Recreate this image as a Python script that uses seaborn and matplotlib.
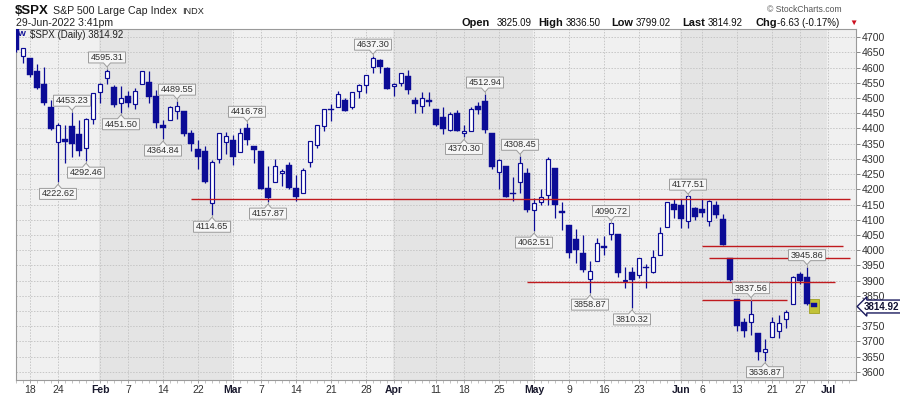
"""$SPX daily candlestick chart in the StockCharts look (Jan - Jun 2022)."""

import matplotlib.pyplot as plt
import matplotlib.patches as patches
import matplotlib.transforms as mtransforms
import numpy as np
import pandas as pd
import seaborn as sns

sns.set_theme(style="white", context="paper")
plt.rcParams["font.family"] = ["Liberation Sans", "DejaVu Sans"]

_DPI = 100
NAVY = "#0b0b96"
GRID = "#c6c6c6"
LEVEL_RED = "#c01a1e"

# ---------------------------------------------------------------------------
# Data (daily OHLC)
# ---------------------------------------------------------------------------

dates = [
    "2022-01-13", "2022-01-14", "2022-01-18", "2022-01-19", "2022-01-20", "2022-01-21",
    "2022-01-24", "2022-01-25", "2022-01-26", "2022-01-27", "2022-01-28", "2022-01-31",
    "2022-02-01", "2022-02-02", "2022-02-03", "2022-02-04", "2022-02-07", "2022-02-08",
    "2022-02-09", "2022-02-10", "2022-02-11", "2022-02-14", "2022-02-15", "2022-02-16",
    "2022-02-17", "2022-02-18", "2022-02-22", "2022-02-23", "2022-02-24", "2022-02-25",
    "2022-02-28",
    "2022-03-01", "2022-03-02", "2022-03-03", "2022-03-04", "2022-03-07", "2022-03-08",
    "2022-03-09", "2022-03-10", "2022-03-11", "2022-03-14", "2022-03-15", "2022-03-16",
    "2022-03-17", "2022-03-18", "2022-03-21", "2022-03-22", "2022-03-23", "2022-03-24",
    "2022-03-25", "2022-03-28", "2022-03-29", "2022-03-30", "2022-03-31",
    "2022-04-01", "2022-04-04", "2022-04-05", "2022-04-06", "2022-04-07", "2022-04-08",
    "2022-04-11", "2022-04-12", "2022-04-13", "2022-04-14", "2022-04-18", "2022-04-19",
    "2022-04-20", "2022-04-21", "2022-04-22", "2022-04-25", "2022-04-26", "2022-04-27",
    "2022-04-28", "2022-04-29",
    "2022-05-02", "2022-05-03", "2022-05-04", "2022-05-05", "2022-05-06", "2022-05-09",
    "2022-05-10", "2022-05-11", "2022-05-12", "2022-05-13", "2022-05-16", "2022-05-17",
    "2022-05-18", "2022-05-19", "2022-05-20", "2022-05-23", "2022-05-24", "2022-05-25",
    "2022-05-26", "2022-05-27", "2022-05-31",
    "2022-06-01", "2022-06-02", "2022-06-03", "2022-06-06", "2022-06-07", "2022-06-08",
    "2022-06-09", "2022-06-10", "2022-06-13", "2022-06-14", "2022-06-15", "2022-06-16",
    "2022-06-17", "2022-06-21", "2022-06-22", "2022-06-23", "2022-06-24", "2022-06-27",
    "2022-06-28", "2022-06-29",
]

opens = [
    4733.56, 4637.99, 4632.24, 4588.03, 4547.35, 4471.38, 4356.32, 4366.64, 4408.43, 4380.58, 4336.19, 4431.79,
    4519.57, 4566.39, 4535.41, 4482.79, 4505.75, 4480.02, 4547.00, 4553.24, 4506.27, 4412.61, 4429.28, 4455.75,
    4456.06, 4384.57, 4332.74, 4324.93, 4155.77, 4298.38, 4354.17,
    4363.14, 4322.56, 4401.31, 4342.12, 4327.01, 4202.66, 4223.10, 4252.55, 4279.50, 4202.75, 4188.82, 4288.14,
    4345.11, 4407.34, 4462.40, 4469.10, 4493.10, 4469.98, 4522.66, 4541.09, 4602.86, 4624.20, 4599.02,
    4540.32, 4547.97, 4572.45, 4494.17, 4474.65, 4494.15, 4462.64, 4437.59, 4394.30, 4449.12, 4385.63, 4390.63,
    4472.26, 4489.17, 4385.83, 4255.34, 4278.14, 4186.52, 4222.58, 4253.75,
    4130.61, 4159.78, 4181.18, 4270.43, 4128.17, 4081.27, 4035.18, 3990.08, 3903.95, 3963.90, 4013.02, 4052.00,
    4051.98, 3899.00, 3927.76, 3919.42, 3942.94, 3929.59, 3984.60, 4077.43, 4151.09,
    4149.78, 4095.41, 4137.57, 4134.72, 4096.47, 4147.12, 4101.65, 3974.39, 3838.15, 3763.52, 3764.05, 3728.18,
    3665.90, 3715.31, 3733.89, 3774.71, 3821.75, 3920.76, 3913.00, 3825.09,
]

highs = [
    4744.13, 4665.13, 4632.24, 4611.55, 4602.11, 4494.52, 4417.35, 4411.01, 4453.23, 4428.74, 4432.72, 4516.89,
    4550.49, 4595.31, 4542.88, 4539.66, 4521.86, 4531.32, 4590.03, 4588.92, 4526.33, 4426.22, 4472.77, 4489.55,
    4456.06, 4394.60, 4362.12, 4341.51, 4294.73, 4385.34, 4388.84,
    4378.45, 4401.48, 4416.78, 4342.12, 4327.01, 4276.94, 4299.40, 4268.28, 4291.01, 4247.57, 4271.05, 4357.86,
    4412.67, 4465.40, 4481.75, 4522.00, 4501.07, 4520.58, 4546.03, 4575.65, 4637.30, 4627.77, 4603.07,
    4548.70, 4583.50, 4593.45, 4503.94, 4521.16, 4520.41, 4464.35, 4471.00, 4453.92, 4460.46, 4410.31, 4471.03,
    4488.29, 4512.94, 4385.83, 4299.02, 4278.14, 4240.71, 4308.45, 4269.68,
    4169.81, 4200.10, 4307.66, 4270.43, 4157.69, 4081.27, 4068.82, 4049.09, 3964.80, 4038.88, 4046.46, 4090.72,
    4051.98, 3945.96, 3943.42, 3975.30, 3955.68, 3999.33, 4075.14, 4158.49, 4168.34,
    4166.54, 4177.51, 4142.67, 4168.78, 4164.86, 4160.14, 4119.10, 3974.39, 3838.15, 3778.18, 3837.56, 3728.18,
    3707.71, 3779.65, 3785.99, 3802.58, 3913.65, 3927.72, 3945.86, 3836.50,
]

lows = [
    4650.29, 4614.75, 4568.70, 4530.20, 4477.95, 4395.34, 4222.62, 4287.11, 4304.80, 4309.50, 4292.46, 4414.02,
    4483.53, 4544.32, 4470.39, 4451.50, 4471.47, 4465.40, 4547.00, 4484.31, 4401.41, 4364.84, 4429.28, 4429.68,
    4373.81, 4327.22, 4267.11, 4221.51, 4114.65, 4286.83, 4315.12,
    4279.54, 4322.56, 4345.56, 4284.98, 4199.85, 4157.87, 4223.10, 4209.80, 4200.49, 4161.72, 4187.90, 4272.36,
    4335.65, 4390.57, 4424.30, 4469.10, 4455.81, 4465.17, 4501.07, 4517.69, 4581.51, 4581.32, 4530.41,
    4507.57, 4539.21, 4514.17, 4450.04, 4450.30, 4474.60, 4408.38, 4381.34, 4392.70, 4390.77, 4370.30, 4390.63,
    4448.76, 4384.47, 4267.62, 4200.82, 4175.04, 4162.90, 4188.63, 4124.28,
    4062.51, 4147.08, 4148.91, 4106.01, 4067.91, 3975.48, 3958.17, 3928.82, 3858.87, 3963.90, 3983.99, 4033.93,
    3911.91, 3876.58, 3810.32, 3908.52, 3875.13, 3925.03, 3984.60, 4077.43, 4104.88,
    4073.85, 4074.37, 4098.67, 4109.18, 4080.19, 4107.20, 4017.17, 3900.16, 3734.30, 3715.31, 3722.30, 3639.77,
    3636.87, 3715.31, 3710.85, 3743.52, 3821.75, 3889.66, 3820.14, 3799.02,
]

closes = [
    4659.03, 4662.85, 4577.11, 4532.76, 4482.73, 4397.94, 4410.13, 4356.45, 4349.93, 4326.51, 4431.85, 4515.55,
    4546.54, 4589.38, 4477.44, 4500.53, 4483.87, 4521.54, 4587.18, 4504.08, 4418.64, 4401.67, 4471.07, 4475.01,
    4380.26, 4348.87, 4304.76, 4225.50, 4288.70, 4384.65, 4373.94,
    4306.26, 4386.54, 4363.49, 4328.87, 4201.09, 4170.70, 4277.88, 4259.52, 4204.31, 4173.11, 4262.45, 4357.86,
    4411.67, 4463.12, 4461.18, 4511.61, 4456.24, 4520.16, 4543.06, 4575.52, 4631.60, 4602.45, 4530.41,
    4545.86, 4582.64, 4525.12, 4481.15, 4500.21, 4488.28, 4412.53, 4397.45, 4446.59, 4392.59, 4391.69, 4462.21,
    4459.45, 4393.66, 4271.78, 4296.12, 4175.20, 4183.96, 4287.50, 4131.93,
    4155.38, 4175.48, 4300.17, 4146.87, 4123.34, 3991.24, 4001.05, 3935.18, 3930.08, 4023.89, 4008.01, 4088.85,
    3923.68, 3900.79, 3901.36, 3973.75, 3941.48, 3978.73, 4057.84, 4158.24, 4132.15,
    4101.23, 4176.82, 4108.54, 4121.43, 4160.68, 4115.77, 4017.82, 3900.86, 3749.63, 3735.48, 3789.99, 3666.77,
    3674.84, 3764.79, 3759.89, 3795.73, 3911.74, 3900.11, 3821.55, 3814.92,
]

# empty trading days to the right of the last bar
future_dates = ["2022-06-30", "2022-07-01", "2022-07-05", "2022-07-06", "2022-07-07"]

tick_dates = [
    "2022-01-18", "2022-01-24", "2022-02-01", "2022-02-07", "2022-02-14", "2022-02-22",
    "2022-03-01", "2022-03-07", "2022-03-14", "2022-03-21", "2022-03-28", "2022-04-01",
    "2022-04-11", "2022-04-18", "2022-04-25", "2022-05-02", "2022-05-09", "2022-05-16",
    "2022-05-23", "2022-06-01", "2022-06-06", "2022-06-13", "2022-06-21", "2022-06-27",
    "2022-07-01",
]
tick_labels = [
    "18", "24", "Feb", "7", "14", "22", "Mar", "7", "14", "21", "28", "Apr",
    "11", "18", "25", "May", "9", "16", "23", "Jun", "6", "13", "21", "27", "Jul",
]

# price scale; the 3800 label sits under the last-price marker
price_ticks = list(range(3600, 4701, 50))
hidden_price_labels = [3800]

# swing highs / lows that carry a price tag
swing_dates = [
    "2022-01-24", "2022-01-26", "2022-01-28", "2022-02-02", "2022-02-04", "2022-02-14",
    "2022-02-16", "2022-02-24", "2022-03-03", "2022-03-08", "2022-03-29", "2022-04-18",
    "2022-04-21", "2022-04-28", "2022-05-02", "2022-05-12", "2022-05-17", "2022-05-20",
    "2022-06-02", "2022-06-15", "2022-06-17", "2022-06-28",
]
swing_kinds = [
    "L", "H", "L", "H", "L", "L", "H", "L", "H", "L", "H", "L",
    "H", "H", "L", "L", "H", "L", "H", "H", "L", "H",
]

# hand drawn support / resistance lines (price, start bar, end bar)
level_prices = [4168.0, 4012.7, 3973.3, 3894.5, 3837.0]
level_starts = [25.0, 98.0, 99.0, 73.0, 98.0]
level_ends = [119.1, 118.1, 119.1, 117.0, 110.1]

# ---------------------------------------------------------------------------
# Layout helpers
# ---------------------------------------------------------------------------

all_days = pd.to_datetime(dates + future_dates)
day_index = {d: i for i, d in enumerate(all_days)}

df = pd.DataFrame({
    "date": pd.to_datetime(dates),
    "open": opens, "high": highs, "low": lows, "close": closes,
})
df["x"] = np.arange(len(df))
df["up"] = df["close"] >= df["open"]

XMIN, XMAX = 0.0, 120.0
YMIN, YMAX = 3573.5, 4726.6
AX_W_PX, AX_H_PX = 840.0, 351.0
ux = (XMAX - XMIN) / AX_W_PX   # data units per pixel
uy = (YMAX - YMIN) / AX_H_PX

fig = plt.figure(figsize=(9.0, 3.96), dpi=_DPI)
fig.patch.set_facecolor("white")
ax = fig.add_axes([16 / 900, 16 / 396, AX_W_PX / 900, AX_H_PX / 396])
ax.set_xlim(XMIN, XMAX)
ax.set_ylim(YMIN, YMAX)


def fig_text(x, y, s, **kw):
    fig.text(x / 900, 1 - y / 396, s, va="center", **kw)


# month bands
month_starts = [0.0] + [day_index[pd.Timestamp(d)] - 0.1 for d in
                        ["2022-02-01", "2022-03-01", "2022-04-01", "2022-05-02",
                         "2022-06-01", "2022-07-01"]] + [XMAX]
for k in range(len(month_starts) - 1):
    shade = "#e4e4e4" if k % 2 else "#f0f0f0"
    ax.axvspan(month_starts[k], month_starts[k + 1], color=shade, lw=0, zorder=0)

ax.set_axisbelow(True)
ax.grid(True, which="major", color=GRID, ls=(0, (1.5, 1.5)), lw=0.7)

# ---------------------------------------------------------------------------
# Candles
# ---------------------------------------------------------------------------

ax.vlines(df["x"], df["low"], df["high"], color=NAVY, lw=0.9, zorder=3)
body_h = (df["close"] - df["open"]).abs().clip(lower=1.2 * uy)
body_lo = df[["open", "close"]].min(axis=1)
up = df["up"]
ax.bar(df["x"][up], body_h[up], bottom=body_lo[up], width=0.6,
       color="white", edgecolor=NAVY, lw=0.85, zorder=4)
ax.bar(df["x"][~up], body_h[~up], bottom=body_lo[~up], width=0.74,
       color=NAVY, edgecolor=NAVY, lw=0.3, zorder=4)

# highlight on the latest bar
last = df.iloc[-1]
ax.add_patch(patches.Rectangle(
    (last["x"] - 0.68, last["low"] - 2 * uy), 1.36,
    last["high"] - last["low"] + 3 * uy,
    fc="#c2c238", ec="#a0a020", lw=0.6, zorder=3.5))

# support / resistance lines
ax.hlines(level_prices, level_starts, level_ends, color=LEVEL_RED, lw=1.0, zorder=5)

# ---------------------------------------------------------------------------
# Swing price tags
# ---------------------------------------------------------------------------

for d, kind in zip(swing_dates, swing_kinds):
    row = df.loc[df["date"] == pd.Timestamp(d)].iloc[0]
    x = row["x"]
    price = row["high"] if kind == "H" else row["low"]
    hw, bh = 18.5 * ux, 11 * uy
    cw, ch = 3.5 * ux, 4 * uy
    sgn = 1 if kind == "H" else -1
    edge = price + sgn * 6 * uy
    far = edge + sgn * bh
    tip = edge - sgn * ch
    verts = [(x - hw, edge), (x - cw, edge), (x, tip), (x + cw, edge),
             (x + hw, edge), (x + hw, far), (x - hw, far)]
    ax.add_patch(patches.Polygon(verts, closed=True, fc="#f6f6f6", ec="#9c9c9c",
                                 lw=0.7, zorder=6))
    ax.plot([x, x], [price, tip], color="#9c9c9c", lw=0.7, zorder=5.5)
    ax.text(x, (edge + far) / 2, f"{price:.2f}", ha="center", va="center",
            fontsize=6.6, color="#303030", zorder=7)

# ---------------------------------------------------------------------------
# Axes styling
# ---------------------------------------------------------------------------

for sp in ax.spines.values():
    sp.set_color("#9a9a9a")
    sp.set_linewidth(0.8)

ax.yaxis.tick_right()
ax.set_yticks(price_ticks)
ax.set_yticklabels(["" if v in hidden_price_labels else str(v) for v in price_ticks])
ax.tick_params(axis="y", which="major", right=True, left=False, length=3, width=0.7,
               color="#888888", pad=1, labelsize=7.6, labelcolor="#333333")

ax.set_xticks([day_index[pd.Timestamp(d)] for d in tick_dates])
ax.set_xticklabels(tick_labels)
ax.set_xticks(np.arange(0, 120), minor=True)
ax.tick_params(axis="x", which="major", bottom=True, length=2, width=0.6, color="#999999",
               pad=1.5, labelsize=7.5, labelcolor="#333333")
ax.tick_params(axis="x", which="minor", bottom=True, length=2, width=0.5, color="#aaaaaa")
for lbl in ax.get_xticklabels():
    if lbl.get_text().isalpha():
        lbl.set_fontweight("bold")
        lbl.set_color("#1a1a2e")
ax.set_xlabel("")
ax.set_ylabel("")

# last price marker on the right scale
blend = mtransforms.blended_transform_factory(ax.transAxes, ax.transData)
ax.text(1.0095, last["close"], f"{last['close']:.2f}", transform=blend, ha="left",
        va="center", fontsize=7.0, fontweight="bold", color="#111133", clip_on=False,
        bbox=dict(boxstyle="larrow,pad=0.15", fc="white", ec="#1a1a5e", lw=1.0))

# legend line inside the plot
fig_text(18, 35, "W", fontsize=6, fontweight="bold", color=NAVY)
fig_text(30, 35, f"$SPX (Daily) {last['close']:.2f}", fontsize=7, color="#222222")

# ---------------------------------------------------------------------------
# Header
# ---------------------------------------------------------------------------

fig_text(15, 11, "$SPX", fontsize=9.5, fontweight="bold", color="#111111")
fig_text(53, 11, "S&P 500 Large Cap Index", fontsize=7.7, color="#222222")
fig_text(182, 11, "INDX", fontsize=6.6, color="#222222")
fig_text(16, 23, "29-Jun-2022 3:41pm", fontsize=7.6, color="#222222")
fig_text(767, 10, "\u00a9 StockCharts.com", fontsize=6.2, color="#555555")

header_items = [
    (462, "Open", True), (497, "3825.09", False),
    (538, "High", True), (566, "3836.50", False),
    (611, "Low", True), (636, "3799.02", False),
    (682, "Last", True), (708, "3814.92", False),
    (755, "Chg", True), (777, "-6.63 (-0.17%)", False),
]
for hx, s, bold in header_items:
    fig_text(hx, 23, s, fontsize=7.9 if bold else 7.0,
             fontweight="bold" if bold else "normal", color="#111111")
fig_text(849, 23, "\u25bc", fontsize=6, color="#cc1020")

fig.savefig("out.png", dpi=_DPI)
plt.close(fig)
